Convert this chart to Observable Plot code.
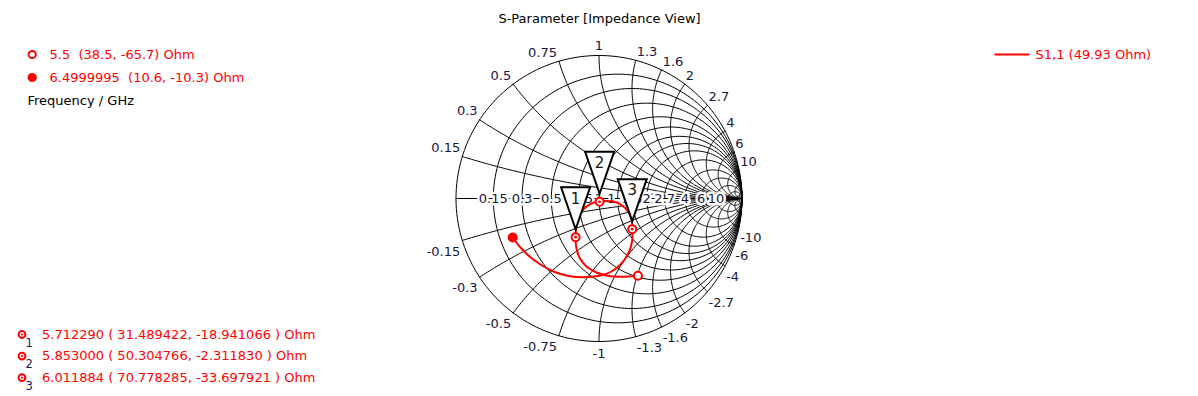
<!DOCTYPE html>
<html><head><meta charset="utf-8">
<script src="https://cdn.jsdelivr.net/npm/d3@7"></script>
<script src="https://cdn.jsdelivr.net/npm/@observablehq/plot@0.6"></script>
<style>
html,body{margin:0;padding:0;background:#fff;}
svg text{white-space:pre;}
</style></head><body><div id="chart"></div>
<script>
// ---- chart content ----
const title = "S-Parameter [Impedance View]";
const seriesName = "S1,1 (49.93 Ohm)";
const freqUnit = "Frequency / GHz";
const z0 = 49.93;
const gridR = [0.15, 0.3, 0.5, 0.75, 1, 1.3, 1.6, 2, 2.7, 4, 6, 10];
const gridX = [0.15, 0.3, 0.5, 0.75, 1, 1.3, 1.6, 2, 2.7, 4, 6, 10];
const gridLabels = ["0.15","0.3","0.5","0.75","1","1.3","1.6","2","2.7","4","6","10"];
const gridFine = [20, 50];
// S1,1 trace, reflection coefficient (5.5 GHz -> 6.5 GHz)
const traceRe = [0.2727,0.1503,0.0594,-0.0175,-0.0874,-0.1329,-0.1573,-0.1643,-0.1601,-0.1503,-0.1175,-0.0594,0.0105,0.1014,0.1622,0.2063,0.2294,0.2322,0.2322,0.2098,0.1573,0.0874,0.0035,-0.1014,-0.2133,-0.3182,-0.4091,-0.4860,-0.5490,-0.6049];
const traceIm = [-0.5406,-0.5476,-0.5406,-0.5175,-0.4755,-0.4196,-0.3497,-0.2727,-0.2028,-0.1329,-0.0839,-0.0371,-0.0196,-0.0210,-0.0490,-0.0958,-0.1538,-0.2140,-0.2937,-0.3741,-0.4545,-0.5105,-0.5406,-0.5510,-0.5420,-0.5105,-0.4615,-0.4056,-0.3427,-0.2727];
const markerNames = ["1","2","3"];
const markerFreq = ["5.712290","5.853000","6.011884"];
const markerR = [31.489422, 50.304766, 70.778285];
const markerX = [-18.941066, -2.311830, -33.697921];
const endFreq = ["5.5","6.4999995"];
const endR = [38.5, 10.6];
const endX = [-65.7, -10.3];

// ---- helpers ----
function gamma(R, X) {
  const r = R / z0, x = X / z0;
  const D = (r + 1) ** 2 + x * x;
  return [(r * r + x * x - 1) / D, 2 * x / D];
}
const grid = [];
let key = 0;
for (const r of [0, ...gridR, ...gridFine]) {
  const c = r / (1 + r), rad = 1 / (1 + r);
  for (let t = 0; t <= 360; t += 2) {
    const a = t * Math.PI / 180;
    grid.push({k: key, gx: c + rad * Math.cos(a), gy: rad * Math.sin(a)});
  }
  key++;
}
for (const v of [...gridX, ...gridFine]) {
  const ex = (v * v - 1) / (v * v + 1), ey = 2 * v / (v * v + 1);
  let phiE = Math.atan2(ey - 1 / v, ex - 1);
  if (phiE > -Math.PI / 2) phiE -= 2 * Math.PI;
  for (const s of [1, -1]) {
    const n = 120;
    for (let i = 0; i <= n; i++) {
      const a = -Math.PI / 2 + (phiE + Math.PI / 2) * i / n;
      grid.push({k: key, gx: 1 + Math.cos(a) / v, gy: s * (1 / v + Math.sin(a) / v)});
    }
    key++;
  }
}
grid.push({k: key, gx: -1, gy: 0}, {k: key, gx: 1, gy: 0});

const rLabels = gridR.map((r, i) => ({gx: (r - 1) / (r + 1), gy: 0, t: gridLabels[i]}));
const xLab = gridX.map((v, i) => ({v, t: gridLabels[i], gx: (v * v - 1) / (v * v + 1), gy: 2 * v / (v * v + 1)}));
const trace = traceRe.map((re, i) => ({gx: re, gy: traceIm[i]}));
const markers = markerR.map((R, i) => { const [gx, gy] = gamma(R, markerX[i]); return {gx, gy, name: markerNames[i]}; });
const ends = endR.map((R, i) => { const [gx, gy] = gamma(R, endX[i]); return {gx, gy}; });

const labColor = "#16163e";
const red = "#ff0000";
const flag = {draw(ctx) { ctx.moveTo(-14.5, -50); ctx.lineTo(14.5, -50); ctx.lineTo(0, -8); ctx.closePath(); }};
const dash = {draw(ctx) { ctx.moveTo(-17.5, 0); ctx.lineTo(17.5, 0); }};

const topLeft = {frameAnchor: "top-left", textAnchor: "start", lineAnchor: "middle"};
const legendRows = [
  `${endFreq[0]}  (${endR[0]}, ${endX[0]}) Ohm`,
  `${endFreq[1]}  (${endR[1]}, ${endX[1]}) Ohm`
];
const markerRows = markerR.map((R, i) => `${markerFreq[i]} ( ${R.toFixed(6)}, ${markerX[i].toFixed(6)} ) Ohm`);

const marks = [
  Plot.line(grid, {x: "gx", y: "gy", z: "k", stroke: "black", strokeWidth: 1}),
  Plot.text(rLabels, {x: "gx", y: "gy", text: "t", fill: labColor, stroke: "white", strokeWidth: 5, fontSize: 13}),
  Plot.text(xLab.filter(d => d.v < 1), {x: "gx", y: "gy", text: "t", textAnchor: "end", dx: -2, dy: -8.5, fill: labColor, fontSize: 13}),
  Plot.text(xLab.filter(d => d.v === 1), {x: "gx", y: "gy", text: "t", dy: -9.5, fill: labColor, fontSize: 13}),
  Plot.text(xLab.filter(d => d.v > 1), {x: "gx", y: "gy", text: "t", textAnchor: "start", dx: 1, dy: -8.5, fill: labColor, fontSize: 13}),
  Plot.text(xLab.filter(d => d.v < 1), {x: "gx", y: d => -d.gy, text: d => "-" + d.t, textAnchor: "end", dx: -2, dy: 11, fill: labColor, fontSize: 13}),
  Plot.text(xLab.filter(d => d.v === 1), {x: "gx", y: d => -d.gy, text: d => "-" + d.t, dy: 12, fill: labColor, fontSize: 13}),
  Plot.text(xLab.filter(d => d.v > 1), {x: "gx", y: d => -d.gy, text: d => "-" + d.t, textAnchor: "start", dx: 1, dy: 11, fill: labColor, fontSize: 13}),
  Plot.line(trace, {x: "gx", y: "gy", stroke: red, strokeWidth: 2, curve: "catmull-rom"}),
  Plot.dot(markers, {x: "gx", y: "gy", r: 4, stroke: red, strokeWidth: 2, fill: "white"}),
  Plot.dot(markers, {x: "gx", y: "gy", r: 1.4, fill: red}),
  Plot.dot([ends[0]], {x: "gx", y: "gy", r: 4, stroke: red, strokeWidth: 2, fill: "white"}),
  Plot.dot([ends[1]], {x: "gx", y: "gy", r: 5, fill: red}),
  Plot.dot(markers, {x: "gx", y: "gy", r: 5, symbol: flag, fill: "white", stroke: "black", strokeWidth: 2, strokeLinejoin: "miter"}),
  Plot.text(markers, {x: "gx", y: "gy", text: "name", dy: -38.5, fontSize: 15, fill: "#141414"}),
  // title
  Plot.text([title], {frameAnchor: "top", lineAnchor: "middle", dy: 18, fontSize: 13, fill: "black"}),
  // top-left legend
  Plot.dot([0], {frameAnchor: "top-left", dx: 31.7, dy: 54, r: 3.6, stroke: red, strokeWidth: 2, fill: "white"}),
  Plot.dot([0], {frameAnchor: "top-left", dx: 31.7, dy: 77, r: 4.6, fill: red}),
  Plot.text([legendRows[0]], {...topLeft, dx: 49, dy: 54, fill: red, fontSize: 13}),
  Plot.text([legendRows[1]], {...topLeft, dx: 49, dy: 77, fill: red, fontSize: 13}),
  Plot.text([freqUnit], {...topLeft, dx: 27, dy: 100, fill: "black", fontSize: 13}),
  // top-right legend
  Plot.dot([0], {frameAnchor: "top-left", dx: 1011.5, dy: 54, r: 5, symbol: dash, fill: "none", stroke: red, strokeWidth: 2}),
  Plot.text([seriesName], {...topLeft, dx: 1035, dy: 54, fill: red, fontSize: 13}),
];
// bottom-left marker legend
markerRows.forEach((row, i) => {
  const y = 334 + i * 21.6;
  marks.push(
    Plot.dot([0], {frameAnchor: "top-left", dx: 21.5, dy: y, r: 3.4, stroke: red, strokeWidth: 2, fill: "white"}),
    Plot.dot([0], {frameAnchor: "top-left", dx: 21.5, dy: y, r: 1.1, fill: red}),
    Plot.text([markerNames[i]], {frameAnchor: "top-left", lineAnchor: "middle", dx: 25, dy: y + 8.5, fill: "#0c1a5a", fontSize: 11.5}),
    Plot.text([row], {...topLeft, dx: 41.5, dy: y, fill: red, fontSize: 13})
  );
});

const chart = Plot.plot({
  width: 1198, height: 396, margin: 0,
  style: {fontFamily: "DejaVu Sans", fontSize: "13px", background: "white"},
  x: {domain: [-598.5 / 143, 599.5 / 143], axis: null},
  y: {domain: [-198 / 143, 198 / 143], axis: null},
  marks
});
document.getElementById("chart").appendChild(chart);
</script></body></html>
